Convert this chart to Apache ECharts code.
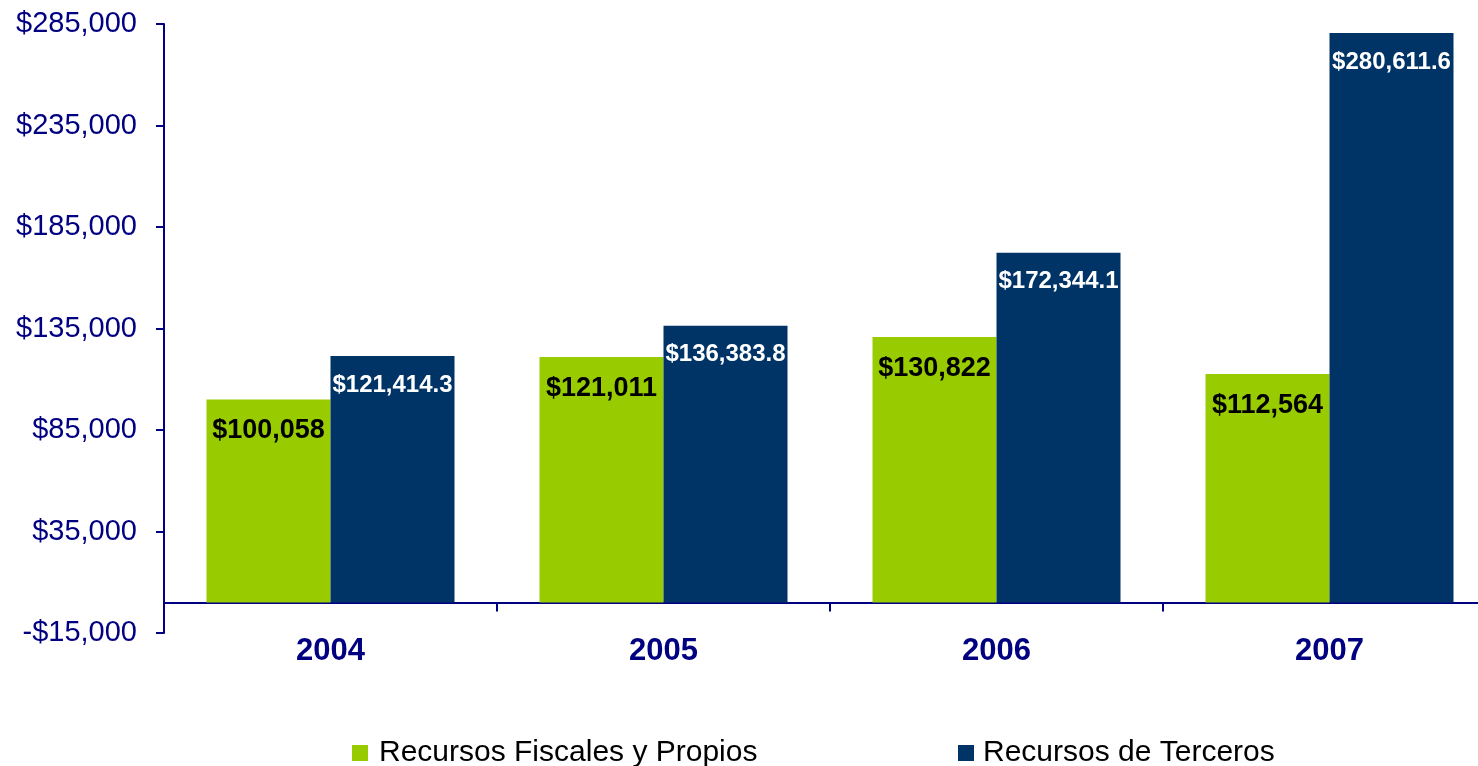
<!DOCTYPE html>
<html style="height: 100%">
<head>
  <meta charset="utf-8">
</head>
<body style="height: 100%; margin: 0; background: #fff">
<div id="chart" style="width: 1478px; height: 766px"></div>
<script src="https://cdn.jsdelivr.net/npm/echarts@6/dist/echarts.min.js"></script>
<script>
  var years = ['2004', '2005', '2006', '2007'];
  var fiscales = [100058, 121011, 130822, 112564];
  var terceros = [121414.3, 136383.8, 172344.1, 280611.6];
  var yTicks = [-15000, 35000, 85000, 135000, 185000, 235000, 285000];

  var navy = '#000080';

  function money(v, dec) {
    var s = Math.abs(v).toLocaleString('en-US', {minimumFractionDigits: dec, maximumFractionDigits: dec});
    return (v < 0 ? '-$' : '$') + s;
  }

  var chart = echarts.init(document.getElementById('chart'));

  var option = {
    animation: false,
    textStyle: {fontFamily: 'Liberation Sans, Arial, sans-serif'},
    grid: {left: 164, right: -18, top: 24, bottom: 133, containLabel: false, outerBoundsMode: 'none'},
    legend: [{
      data: ['Recursos Fiscales y Propios'],
      left: 347, top: 733,
      icon: 'rect', itemWidth: 16, itemHeight: 16,
      textStyle: {fontSize: 30, color: '#000', lineHeight: 30, padding: [0, 0, 0, 6]}
    }, {
      data: ['Recursos de Terceros'],
      left: 953, top: 733,
      icon: 'rect', itemWidth: 16, itemHeight: 16,
      textStyle: {fontSize: 30, color: '#000', lineHeight: 30, padding: [0, 0, 0, 4]}
    }],
    xAxis: {
      type: 'category',
      data: years,
      axisLine: {onZero: true, lineStyle: {color: navy, width: 2}},
      axisTick: {show: true, length: 9, lineStyle: {color: navy, width: 2}},
      axisLabel: {fontSize: 31, fontWeight: 'bold', color: navy, margin: 3}
    },
    yAxis: {
      type: 'value',
      min: -15000,
      max: 285000,
      splitLine: {show: false},
      axisLine: {show: true, lineStyle: {color: navy, width: 2}},
      axisTick: {show: true, length: 8, customValues: yTicks, lineStyle: {color: navy, width: 2}},
      axisLabel: {
        customValues: yTicks,
        fontSize: 29, color: navy, margin: 27,
        formatter: function (v) { return money(v, 0); }
      }
    },
    series: [{
      name: 'Recursos Fiscales y Propios',
      type: 'bar',
      data: fiscales,
      barWidth: 124,
      barGap: '0%',
      itemStyle: {color: '#99CC00'},
      label: {
        show: true, position: 'insideTop', distance: 18,
        fontSize: 27, fontWeight: 'bold', color: '#000',
        formatter: function (p) { return money(p.value, 0); }
      }
    }, {
      name: 'Recursos de Terceros',
      type: 'bar',
      data: terceros,
      barWidth: 124,
      barGap: '0%',
      itemStyle: {color: '#003366'},
      label: {
        show: true, position: 'insideTop', distance: 17,
        fontSize: 24, fontWeight: 'bold', color: '#fff',
        formatter: function (p) { return money(p.value, 1); }
      }
    }]
  };

  chart.setOption(option);
</script>
</body>
</html>
